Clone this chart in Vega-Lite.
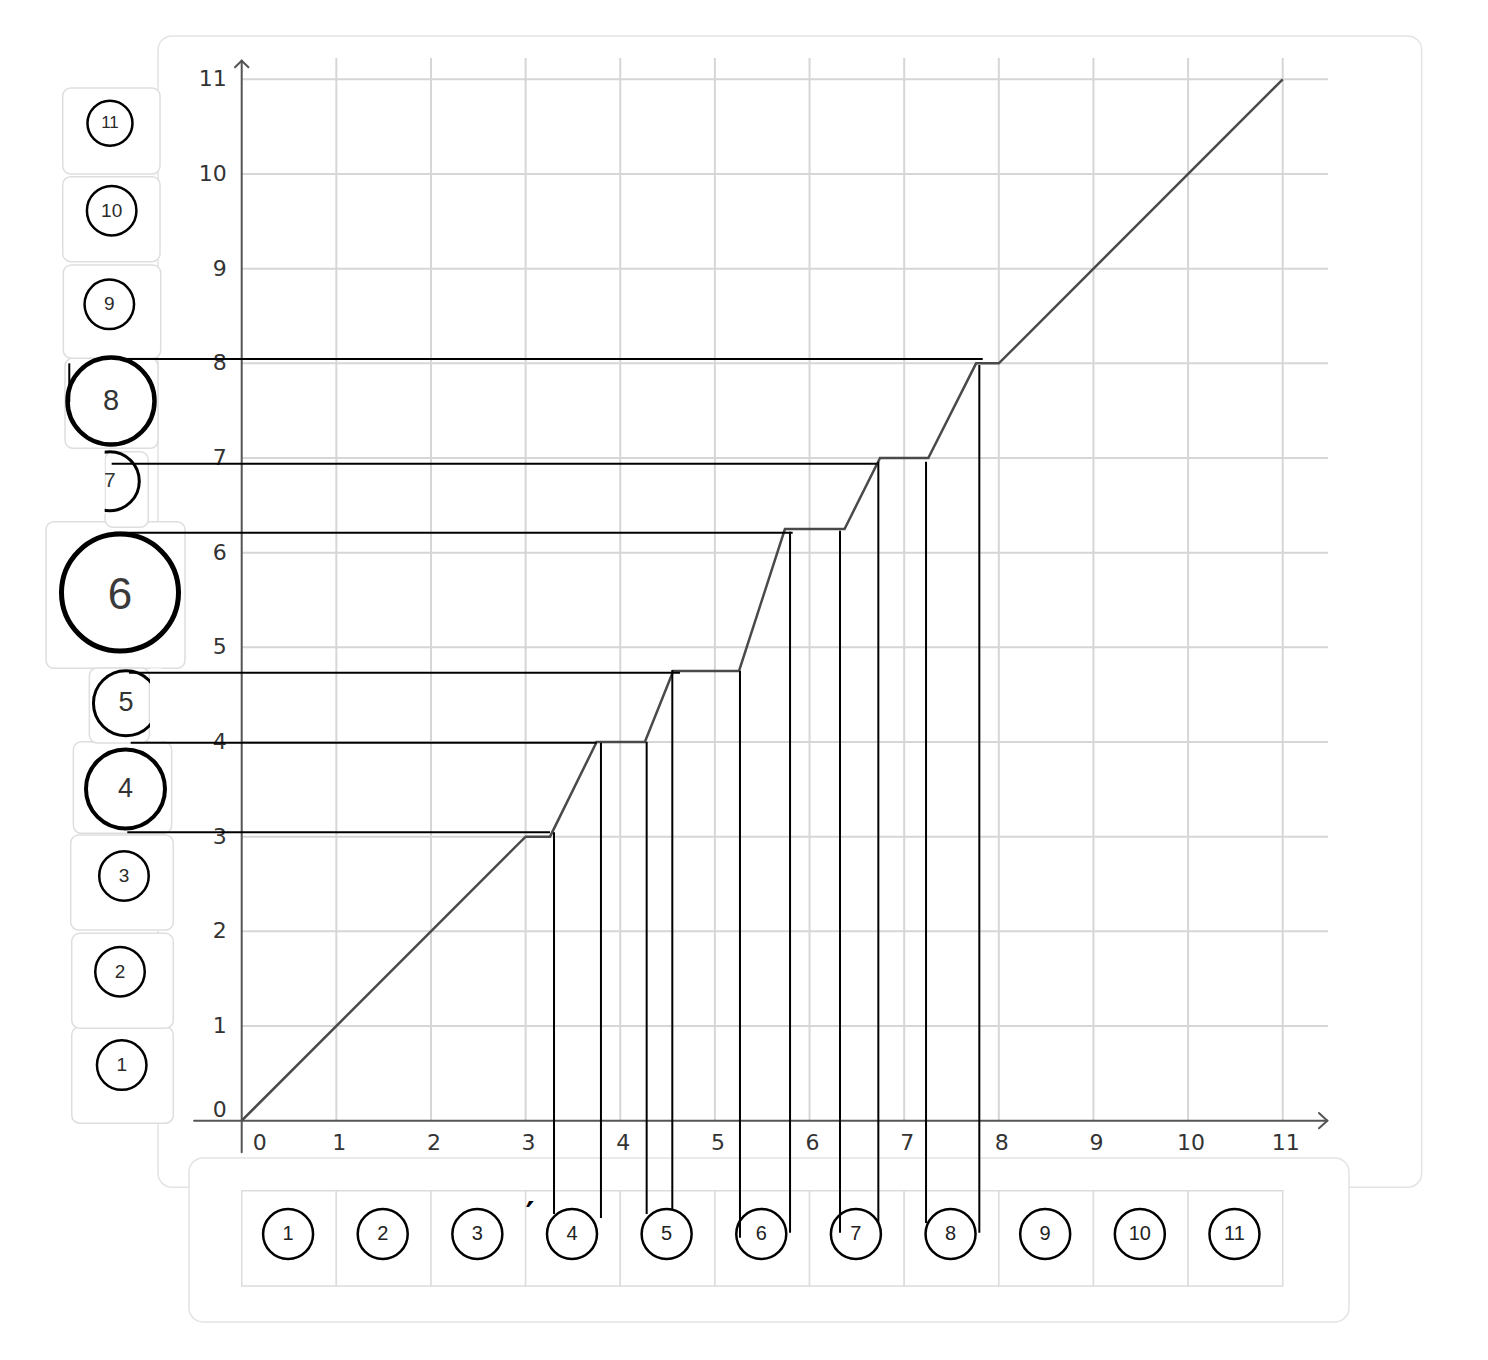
{
  "$schema": "https://vega.github.io/schema/vega-lite/v6.json",
  "width": 1488,
  "height": 1360,
  "padding": 0,
  "autosize": {"type": "none"},
  "background": "white",
  "config": {"view": {"stroke": null}},
  "datasets": {
    "cards": [
      {"x": -0.884, "x2": 12.468, "y": 11.458, "y2": -0.703},
      {"x": -0.557, "x2": 11.7, "y": -0.394, "y2": -2.126}
    ],
    "grid": [
      {"x": 1, "x2": 1, "y": 0, "y2": 11.225},
      {"x": 2, "x2": 2, "y": 0, "y2": 11.225},
      {"x": 3, "x2": 3, "y": 0, "y2": 11.225},
      {"x": 4, "x2": 4, "y": 0, "y2": 11.225},
      {"x": 5, "x2": 5, "y": 0, "y2": 11.225},
      {"x": 6, "x2": 6, "y": 0, "y2": 11.225},
      {"x": 7, "x2": 7, "y": 0, "y2": 11.225},
      {"x": 8, "x2": 8, "y": 0, "y2": 11.225},
      {"x": 9, "x2": 9, "y": 0, "y2": 11.225},
      {"x": 10, "x2": 10, "y": 0, "y2": 11.225},
      {"x": 11, "x2": 11, "y": 0, "y2": 11.225},
      {"x": 0, "x2": 11.478, "y": 1, "y2": 1},
      {"x": 0, "x2": 11.478, "y": 2, "y2": 2},
      {"x": 0, "x2": 11.478, "y": 3, "y2": 3},
      {"x": 0, "x2": 11.478, "y": 4, "y2": 4},
      {"x": 0, "x2": 11.478, "y": 5, "y2": 5},
      {"x": 0, "x2": 11.478, "y": 6, "y2": 6},
      {"x": 0, "x2": 11.478, "y": 7, "y2": 7},
      {"x": 0, "x2": 11.478, "y": 8, "y2": 8},
      {"x": 0, "x2": 11.478, "y": 9, "y2": 9},
      {"x": 0, "x2": 11.478, "y": 10, "y2": 10},
      {"x": 0, "x2": 11.478, "y": 11, "y2": 11}
    ],
    "axes": [
      {"x": -0.503, "x2": 11.471, "y": 0, "y2": 0},
      {"x": 0, "x2": 0, "y": -0.333, "y2": 11.197},
      {"x": 11.383, "x2": 11.471, "y": 0.081, "y2": 0},
      {"x": 11.383, "x2": 11.471, "y": -0.08, "y2": 0},
      {"x": -0.071, "x2": 0, "y": 11.127, "y2": 11.197},
      {"x": 0.071, "x2": 0, "y": 11.127, "y2": 11.197}
    ],
    "xlabels": [
      {"x": 1, "y": 0, "label": "1"}, {"x": 2, "y": 0, "label": "2"},
      {"x": 3, "y": 0, "label": "3"}, {"x": 4, "y": 0, "label": "4"},
      {"x": 5, "y": 0, "label": "5"}, {"x": 6, "y": 0, "label": "6"},
      {"x": 7, "y": 0, "label": "7"}, {"x": 8, "y": 0, "label": "8"},
      {"x": 9, "y": 0, "label": "9"}, {"x": 10, "y": 0, "label": "10"},
      {"x": 11, "y": 0, "label": "11"}
    ],
    "x0label": [{"x": 0, "y": 0, "label": "0"}],
    "ylabels": [
      {"x": 0, "y": 1, "label": "1"}, {"x": 0, "y": 2, "label": "2"},
      {"x": 0, "y": 3, "label": "3"}, {"x": 0, "y": 4, "label": "4"},
      {"x": 0, "y": 5, "label": "5"}, {"x": 0, "y": 6, "label": "6"},
      {"x": 0, "y": 7, "label": "7"}, {"x": 0, "y": 8, "label": "8"},
      {"x": 0, "y": 9, "label": "9"}, {"x": 0, "y": 10, "label": "10"},
      {"x": 0, "y": 11, "label": "11"}
    ],
    "y0label": [{"x": 0, "y": 0, "label": "0"}],
    "curve": [
      {"x": 0, "y": 0}, {"x": 3, "y": 3}, {"x": 3.258, "y": 3},
      {"x": 3.75, "y": 4}, {"x": 4.26, "y": 4}, {"x": 4.56, "y": 4.75},
      {"x": 5.255, "y": 4.75}, {"x": 5.74, "y": 6.25}, {"x": 6.37, "y": 6.25},
      {"x": 6.745, "y": 7}, {"x": 7.255, "y": 7}, {"x": 7.76, "y": 8},
      {"x": 8, "y": 8}, {"x": 11, "y": 11}
    ],
    "boxes": [
      {"n": 1, "x": -1.796, "x2": -0.723, "y": 0.993, "y2": -0.027},
      {"n": 2, "x": -1.796, "x2": -0.723, "y": 1.979, "y2": 0.976},
      {"n": 3, "x": -1.807, "x2": -0.723, "y": 3.018, "y2": 2.014},
      {"n": 4, "x": -1.779, "x2": -0.74, "y": 4.003, "y2": 3.036},
      {"n": 6, "x": -2.068, "x2": -0.599, "y": 6.327, "y2": 4.779},
      {"n": 5, "x": -1.61, "x2": -0.976, "y": 4.782, "y2": 3.99},
      {"n": 7, "x": -1.444, "x2": -0.987, "y": 7.067, "y2": 6.268},
      {"n": 8, "x": -1.867, "x2": -0.884, "y": 8.056, "y2": 7.103},
      {"n": 9, "x": -1.885, "x2": -0.856, "y": 9.039, "y2": 8.053},
      {"n": 10, "x": -1.891, "x2": -0.863, "y": 9.971, "y2": 9.074},
      {"n": 11, "x": -1.891, "x2": -0.863, "y": 10.909, "y2": 10.0}
    ],
    "leftcircles": [
      {"n": 1, "x": -1.268, "y": 0.588, "label": "1"},
      {"n": 2, "x": -1.286, "y": 1.574, "label": "2"},
      {"n": 3, "x": -1.244, "y": 2.585, "label": "3"},
      {"n": 4, "x": -1.228, "y": 3.504, "label": "4"},
      {"n": 5, "x": -1.223, "y": 4.409, "label": "5"},
      {"n": 6, "x": -1.286, "y": 5.579, "label": "6"},
      {"n": 7, "x": -1.394, "y": 6.755, "label": "7"},
      {"n": 8, "x": -1.381, "y": 7.602, "label": "8"},
      {"n": 9, "x": -1.399, "y": 8.624, "label": "9"},
      {"n": 10, "x": -1.374, "y": 9.612, "label": "10"},
      {"n": 11, "x": -1.392, "y": 10.536, "label": "11"}
    ],
    "masks": [
      {"x": -1.785, "x2": -1.448, "y": 7.09, "y2": 6.398},
      {"x": -0.969, "x2": -0.843, "y": 4.778, "y2": 4.005}
    ],
    "cells": [
      {"k": 1, "x": 0, "x2": 1, "y": -0.739, "y2": -1.745},
      {"k": 2, "x": 1, "x2": 2, "y": -0.739, "y2": -1.745},
      {"k": 3, "x": 2, "x2": 3, "y": -0.739, "y2": -1.745},
      {"k": 4, "x": 3, "x2": 4, "y": -0.739, "y2": -1.745},
      {"k": 5, "x": 4, "x2": 5, "y": -0.739, "y2": -1.745},
      {"k": 6, "x": 5, "x2": 6, "y": -0.739, "y2": -1.745},
      {"k": 7, "x": 6, "x2": 7, "y": -0.739, "y2": -1.745},
      {"k": 8, "x": 7, "x2": 8, "y": -0.739, "y2": -1.745},
      {"k": 9, "x": 8, "x2": 9, "y": -0.739, "y2": -1.745},
      {"k": 10, "x": 9, "x2": 10, "y": -0.739, "y2": -1.745},
      {"k": 11, "x": 10, "x2": 11, "y": -0.739, "y2": -1.745}
    ],
    "tablecircles": [
      {"k": 1, "x": 0.49, "y": -1.197, "label": "1"},
      {"k": 2, "x": 1.49, "y": -1.197, "label": "2"},
      {"k": 3, "x": 2.49, "y": -1.197, "label": "3"},
      {"k": 4, "x": 3.49, "y": -1.197, "label": "4"},
      {"k": 5, "x": 4.49, "y": -1.197, "label": "5"},
      {"k": 6, "x": 5.49, "y": -1.197, "label": "6"},
      {"k": 7, "x": 6.49, "y": -1.197, "label": "7"},
      {"k": 8, "x": 7.49, "y": -1.197, "label": "8"},
      {"k": 9, "x": 8.49, "y": -1.197, "label": "9"},
      {"k": 10, "x": 9.49, "y": -1.197, "label": "10"},
      {"k": 11, "x": 10.49, "y": -1.197, "label": "11"}
    ],
    "tick": [{"x": 3.047, "y": -0.908, "label": "′"}],
    "proj": [
      {"x": -1.209, "x2": 3.258, "y": 3.046, "y2": 3.046},
      {"x": -1.173, "x2": 3.751, "y": 3.993, "y2": 3.993},
      {"x": -1.191, "x2": 4.631, "y": 4.732, "y2": 4.732},
      {"x": -1.349, "x2": 5.822, "y": 6.211, "y2": 6.211},
      {"x": -1.374, "x2": 6.71, "y": 6.94, "y2": 6.94},
      {"x": -1.244, "x2": 7.83, "y": 8.046, "y2": 8.046},
      {"x": 3.3, "x2": 3.3, "y": 3.046, "y2": -0.986},
      {"x": 3.796, "x2": 3.796, "y": 3.993, "y2": -1.028},
      {"x": 4.279, "x2": 4.279, "y": 4.003, "y2": -0.986},
      {"x": 4.55, "x2": 4.55, "y": 4.761, "y2": -0.933},
      {"x": 5.265, "x2": 5.265, "y": 4.753, "y2": -1.236},
      {"x": 5.794, "x2": 5.794, "y": 6.222, "y2": -1.183},
      {"x": 6.322, "x2": 6.322, "y": 6.232, "y2": -1.183},
      {"x": 6.727, "x2": 6.727, "y": 6.961, "y2": -1.081},
      {"x": 7.231, "x2": 7.231, "y": 6.961, "y2": -1.081},
      {"x": 7.794, "x2": 7.794, "y": 7.983, "y2": -1.183},
      {"x": -1.822, "x2": -1.822, "y": 8.0, "y2": 7.59}
    ]
  },
  "encoding": {
    "x": {"field": "x", "type": "quantitative", "scale": {"domain": [-2.554, 13.169], "nice": false, "zero": false}, "axis": null},
    "y": {"field": "y", "type": "quantitative", "scale": {"domain": [-2.528, 11.838], "nice": false, "zero": false}, "axis": null}
  },
  "layer": [
    {
      "data": {"name": "cards"},
      "mark": {"type": "rect", "fill": "white", "stroke": "#e3e3e3", "strokeWidth": 1.5, "cornerRadius": 14},
      "encoding": {"x2": {"field": "x2"}, "y2": {"field": "y2"}}
    },
    {
      "data": {"name": "grid"},
      "mark": {"type": "rule", "stroke": "#d6d6d6", "strokeWidth": 2},
      "encoding": {"x2": {"field": "x2"}, "y2": {"field": "y2"}}
    },
    {
      "data": {"name": "axes"},
      "mark": {"type": "rule", "stroke": "#555555", "strokeWidth": 2, "strokeCap": "round"},
      "encoding": {"x2": {"field": "x2"}, "y2": {"field": "y2"}}
    },
    {
      "data": {"name": "xlabels"},
      "mark": {"type": "text", "font": "DejaVu Sans", "fontSize": 22, "fill": "#333333", "align": "center", "baseline": "middle", "dx": 3, "dy": 22},
      "encoding": {"text": {"field": "label"}}
    },
    {
      "data": {"name": "x0label"},
      "mark": {"type": "text", "font": "DejaVu Sans", "fontSize": 22, "fill": "#333333", "align": "center", "baseline": "middle", "dx": 18, "dy": 22},
      "encoding": {"text": {"field": "label"}}
    },
    {
      "data": {"name": "ylabels"},
      "mark": {"type": "text", "font": "DejaVu Sans", "fontSize": 22, "fill": "#333333", "align": "right", "baseline": "middle", "dx": -15},
      "encoding": {"text": {"field": "label"}}
    },
    {
      "data": {"name": "y0label"},
      "mark": {"type": "text", "font": "DejaVu Sans", "fontSize": 22, "fill": "#333333", "align": "right", "baseline": "middle", "dx": -15, "dy": -11},
      "encoding": {"text": {"field": "label"}}
    },
    {
      "data": {"name": "curve"},
      "mark": {"type": "line", "stroke": "#4a4a4a", "strokeWidth": 2.5},
      "encoding": {}
    },
    {
      "data": {"name": "boxes"},
      "mark": {"type": "rect", "fill": "white", "stroke": "#dedede", "strokeWidth": 1.5, "cornerRadius": 8},
      "encoding": {"x2": {"field": "x2"}, "y2": {"field": "y2"}}
    },
    {
      "data": {"name": "leftcircles"},
      "transform": [{"filter": "datum.n <= 3 || datum.n == 9 || datum.n == 10"}],
      "mark": {"type": "point", "shape": "circle", "filled": false, "color": "black", "opacity": 1, "size": 2450, "strokeWidth": 2.5},
      "encoding": {}
    },
    {
      "data": {"name": "leftcircles"},
      "transform": [{"filter": "datum.n == 11"}],
      "mark": {"type": "point", "shape": "circle", "filled": false, "color": "black", "opacity": 1, "size": 2025, "strokeWidth": 2.5},
      "encoding": {}
    },
    {
      "data": {"name": "leftcircles"},
      "transform": [{"filter": "datum.n == 4"}],
      "mark": {"type": "point", "shape": "circle", "filled": false, "color": "black", "opacity": 1, "size": 6241, "strokeWidth": 4},
      "encoding": {}
    },
    {
      "data": {"name": "leftcircles"},
      "transform": [{"filter": "datum.n == 5"}],
      "mark": {"type": "point", "shape": "circle", "filled": false, "color": "black", "opacity": 1, "size": 4225, "strokeWidth": 3},
      "encoding": {}
    },
    {
      "data": {"name": "leftcircles"},
      "transform": [{"filter": "datum.n == 6"}],
      "mark": {"type": "point", "shape": "circle", "filled": false, "color": "black", "opacity": 1, "size": 13689, "strokeWidth": 5},
      "encoding": {}
    },
    {
      "data": {"name": "leftcircles"},
      "transform": [{"filter": "datum.n == 7"}],
      "mark": {"type": "point", "shape": "circle", "filled": false, "color": "black", "opacity": 1, "size": 3481, "strokeWidth": 3},
      "encoding": {}
    },
    {
      "data": {"name": "leftcircles"},
      "transform": [{"filter": "datum.n == 8"}],
      "mark": {"type": "point", "shape": "circle", "filled": false, "color": "black", "opacity": 1, "size": 7569, "strokeWidth": 4.5},
      "encoding": {}
    },
    {
      "data": {"name": "leftcircles"},
      "transform": [{"filter": "datum.n <= 3 || datum.n == 9 || datum.n == 10"}],
      "mark": {"type": "text", "font": "Liberation Sans", "fontSize": 19, "fill": "#2a2a2a", "align": "center", "baseline": "middle"},
      "encoding": {"text": {"field": "label"}}
    },
    {
      "data": {"name": "leftcircles"},
      "transform": [{"filter": "datum.n == 11"}],
      "mark": {"type": "text", "font": "Liberation Sans", "fontSize": 17, "fill": "#2a2a2a", "align": "center", "baseline": "middle"},
      "encoding": {"text": {"field": "label"}}
    },
    {
      "data": {"name": "leftcircles"},
      "transform": [{"filter": "datum.n == 4 || datum.n == 5"}],
      "mark": {"type": "text", "font": "Liberation Sans", "fontSize": 27, "fill": "#333333", "align": "center", "baseline": "middle"},
      "encoding": {"text": {"field": "label"}}
    },
    {
      "data": {"name": "leftcircles"},
      "transform": [{"filter": "datum.n == 6"}],
      "mark": {"type": "text", "font": "Liberation Sans", "fontSize": 44, "fill": "#3a3a3a", "align": "center", "baseline": "middle", "dy": 3},
      "encoding": {"text": {"field": "label"}}
    },
    {
      "data": {"name": "leftcircles"},
      "transform": [{"filter": "datum.n == 7"}],
      "mark": {"type": "text", "font": "Liberation Sans", "fontSize": 21, "fill": "#333333", "align": "center", "baseline": "middle"},
      "encoding": {"text": {"field": "label"}}
    },
    {
      "data": {"name": "leftcircles"},
      "transform": [{"filter": "datum.n == 8"}],
      "mark": {"type": "text", "font": "Liberation Sans", "fontSize": 29, "fill": "#333333", "align": "center", "baseline": "middle"},
      "encoding": {"text": {"field": "label"}}
    },
    {
      "data": {"name": "masks"},
      "mark": {"type": "rect", "fill": "white", "strokeWidth": 0},
      "encoding": {"x2": {"field": "x2"}, "y2": {"field": "y2"}}
    },
    {
      "data": {"name": "cells"},
      "mark": {"type": "rect", "fill": "white", "stroke": "#dcdcdc", "strokeWidth": 1.5},
      "encoding": {"x2": {"field": "x2"}, "y2": {"field": "y2"}}
    },
    {
      "data": {"name": "tablecircles"},
      "mark": {"type": "point", "shape": "circle", "filled": false, "color": "black", "opacity": 1, "size": 2500, "strokeWidth": 2.5},
      "encoding": {}
    },
    {
      "data": {"name": "tablecircles"},
      "mark": {"type": "text", "font": "Liberation Sans", "fontSize": 20, "fill": "#222222", "align": "center", "baseline": "middle"},
      "encoding": {"text": {"field": "label"}}
    },
    {
      "data": {"name": "tick"},
      "mark": {"type": "text", "font": "DejaVu Sans", "fontSize": 34, "fontWeight": "bold", "fill": "black", "align": "center", "baseline": "middle", "dy": 9},
      "encoding": {"text": {"field": "label"}}
    },
    {
      "data": {"name": "proj"},
      "mark": {"type": "rule", "stroke": "black", "strokeWidth": 2},
      "encoding": {"x2": {"field": "x2"}, "y2": {"field": "y2"}}
    }
  ]
}
